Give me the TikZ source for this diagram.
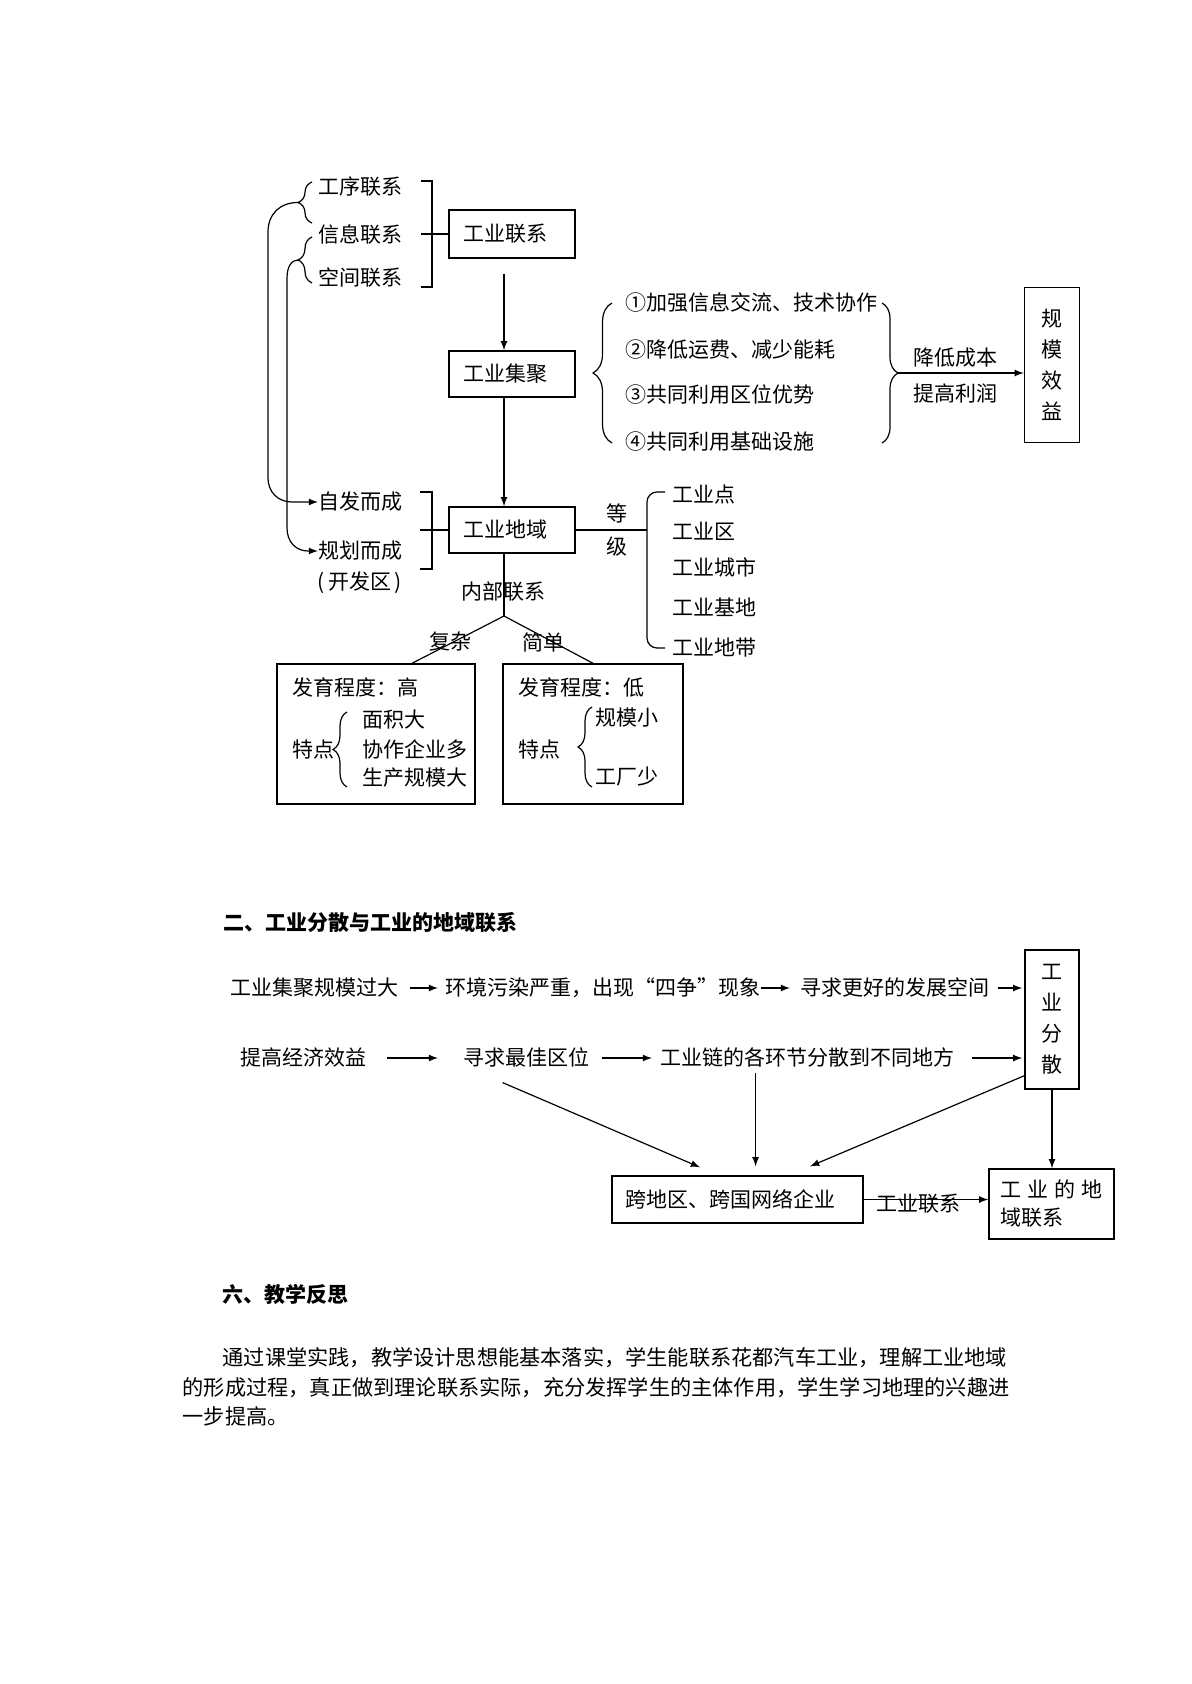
\documentclass[tikz,border=0pt]{standalone}
\usepackage{fontspec}
\setmainfont{Noto Sans CJK SC}
\usetikzlibrary{positioning, arrows, calc, decorations.pathreplacing}

\def\raster{0.5pt}

\tikzset{
    box/.style={draw, line width=0.7pt, inner sep=0pt, align=center},
    stagebox/.style={box, align=left, inner xsep=7pt, text width=49pt, minimum height=#1*\raster},
    word/.style={inner sep=0pt, anchor=west, text height=9.2pt, text depth=1.3pt},
    heading/.style={word, font=\fontsize{10.5pt}{14pt}\selectfont\bfseries},
    flow/.style={-latex},
    curly/.style={decorate, decoration={brace, amplitude=#1}},
    curly/.default=4pt,
}

\begin{document}
\begin{tikzpicture}[x=\raster, y=-\raster, line width=0.6pt,
        font=\fontsize{10.5pt}{14pt}\selectfont]
    \useasboundingbox (0,0) rectangle (1191,1684);

    % main boxes
    \node[stagebox=48] (lianxi) at (512,234) {工业联系};
    \node[stagebox=46] (jiju) at (512,374) {工业集聚};
    \node[stagebox=46] (diyu) at (512,530) {工业地域};
    \node[box, minimum width=55*\raster, minimum height=155*\raster,
        font=\fontsize{10.5pt}{15.5pt}\selectfont] (xiaoyi) at (1052,365) {规\\模\\效\\益};
    \node[box, minimum width=198*\raster, minimum height=140*\raster] (gao) at (376,734) {};
    \node[box, minimum width=180*\raster, minimum height=140*\raster] (di) at (593,734) {};

    \draw[flow, shorten <=7.5pt] ([xshift=-4pt]lianxi.south) -- ([xshift=-4pt]jiju.north);
    \draw[flow] ([xshift=-4pt]jiju.south) -- ([xshift=-4pt]diyu.north);

    % kinds of links
    \foreach \name/\txt/\y in {gongxu/工序联系/187, xinxi/信息联系/235, kongjian/空间联系/278}
        \node[word] (\name) at (318,\y) {\txt};
    \draw (421,181) -- (432,181) -- (432,287) -- (421,287);
    \coordinate (brk1) at (421,234);
    \draw (brk1) -- (lianxi.west);

    % braces feeding the two origins
    \draw[curly=7pt] (312,223) -- (312,182);
    \draw[curly=7pt] (312,283) -- (312,237);
    \coordinate (tip1) at (298,202.5);
    \coordinate (tip2) at (298,260);

    \node[word] (zifa) at (318,502) {自发而成};
    \node[word] (guihua) at (318,551) {规划而成};
    \node (kaifa) at (360,583) {(\,开发区\,)};

    \draw[flow] (tip1) .. controls (280,202.5) and (268,214) .. (268,232) -- (268,478)
        .. controls (268,492) and (278,502) .. (292,502) -- (zifa.west);
    \draw[flow] (tip2) .. controls (292,260) and (287,266) .. (287,278) -- (287,528)
        .. controls (287,542) and (296,551) .. (308,551) -- (guihua.west);

    \draw (420,492) -- (432,492) -- (432,569) -- (420,569);
    \coordinate (brk2) at (420,530);
    \draw (brk2) -- (diyu.west);

    % advantages of agglomeration
    \foreach \i/\txt/\y in {1/①加强信息交流、技术协作/303, 2/②降低运费、减少能耗/350,
            3/③共同利用区位优势/395, 4/④共同利用基础设施/442}
        \node[word] (adv\i) at (625,\y) {\txt};
    \draw[curly=9.5pt] (612,443) -- (612,303);
    \draw[curly=8pt] (882,303) -- (882,443);
    \coordinate (tip3) at (898,373);
    \draw[flow] (tip3) -- (tip3 -| xiaoyi.west);
    \node (chengben) at (955,358) {降低成本};
    \node (lirun) at (955,393) {提高利润};

    % grades
    \coordinate (grade) at (647,530);
    \draw (diyu.east) -- (grade);
    \draw[rounded corners=5pt] (665,492) -- (647,492) -- (647,648) -- (665,648);
    \node (deng) at (617,513) {等};
    \node (ji) at (617,547) {级};
    \foreach \name/\txt/\y in {dian/工业点/495, qu/工业区/532, chengshi/工业城市/568,
            jidi/工业基地/608, didai/工业地带/648}
        \node[word] (\name) at (672,\y) {\txt};

    % inner links
    \coordinate (fork) at (504,616);
    \draw ([xshift=-4pt]diyu.south) -- (fork);
    \node (neibu) at (503,592) {内部联系};
    \draw (fork) -- ([xshift=18pt]gao.north);
    \draw (fork) -- (di.north);
    \node (fuza) at (450,642) {复杂};
    \node (jiandan) at (543,642) {简单};

    % high level
    \node[word] (gaofy) at (292,688) {发育程度：高};
    \node[word] (gaotd) at (292,750) {特点};
    \draw[curly=7pt] (347,787) -- (347,712);
    \foreach \name/\txt/\y in {mianji/面积大/720, xiezuo/协作企业多/750, shengchan/生产规模大/778}
        \node[word] (\name) at (362,\y) {\txt};

    % low level
    \node[word] (dify) at (518,688) {发育程度：低};
    \node[word] (ditd) at (518,750) {特点};
    \draw[curly=7pt] (592,787) -- (592,707);
    \node[word] (guimo) at (595,718) {规模小};
    \node[word] (gongchang) at (595,777) {工厂少};

    % second chart
    \node[heading] (erhead) at (223,923) {二、工业分散与工业的地域联系};
    \node[box, minimum width=54*\raster, minimum height=139*\raster,
        font=\fontsize{10.5pt}{15.5pt}\selectfont] (fensan) at (1052,1019.5) {工\\业\\分\\散};
    \node[box, align=left, inner xsep=6.5pt, text width=112.5pt, minimum height=47*\raster]
        (kuaguo) at (737.5,1199.5) {跨地区、跨国网络企业};
    \node[box, minimum width=125*\raster, minimum height=70*\raster, align=left] (dylx) at (1051.5,1204)
        {工\hspace{3pt}业\hspace{3pt}的\hspace{3pt}地\\域联系};

    \foreach \name/\txt/\x/\y in {guoda/工业集聚规模过大/230/988,
            wuran/环境污染严重，出现“四争”现象/445/988,
            kongjian2/寻求更好的发展空间/800/988,
            xiaoyi2/提高经济效益/240/1058,
            quwei/寻求最佳区位/463/1058,
            lianjie/工业链的各环节分散到不同地方/660/1058}
        \node[word] (\name) at (\x,\y) {\txt};

    \foreach \a/\b/\s/\e in {guoda/wuran/5.5pt/3.5pt, wuran/kongjian2/0pt/5pt,
            xiaoyi2/quwei/10pt/12.5pt, quwei/lianjie/6pt/4pt}
        \draw[flow, shorten <=\s, shorten >=\e] (\a.east) -- (\b.west);
    \draw[flow, shorten <=4pt, shorten >=1pt] (kongjian2.east) -- (kongjian2.east -| fensan.west);
    \draw[flow, shorten <=8.5pt, shorten >=1pt] (lianjie.east) -- (lianjie.east -| fensan.west);

    \draw[flow] ([xshift=-12pt, yshift=-6.75pt]quwei.south) -- ([xshift=-18.75pt, yshift=4pt]kuaguo.north);
    \coordinate (drop) at ([xshift=-26pt, yshift=-2pt]lianjie.south);
    \draw[flow, shorten >=4.5pt] (drop) -- (drop |- kuaguo.north);
    \draw[flow] ([yshift=7pt]fensan.south west) -- ([xshift=36.25pt, yshift=4.5pt]kuaguo.north);
    \draw[flow] (fensan.south) -- (fensan.south |- dylx.north);
    \draw[flow] (kuaguo.east) -- (kuaguo.east -| dylx.west);
    \node (gylx2) at (918,1204) {工业联系};

    % reflection
    \node[heading] (liuhead) at (222,1295) {六、教学反思};
    \foreach \i/\txt/\x/\y in {1/通过课堂实践，教学设计思想能基本落实，学生能联系花都汽车工业，理解工业地域/222/1358,
            2/的形成过程，真正做到理论联系实际，充分发挥学生的主体作用，学生学习地理的兴趣进/182/1388,
            3/一步提高。/182/1417}
        \node[word, font=\fontsize{10.6pt}{14pt}\selectfont] (line\i) at (\x,\y) {\txt};
\end{tikzpicture}
\end{document}
